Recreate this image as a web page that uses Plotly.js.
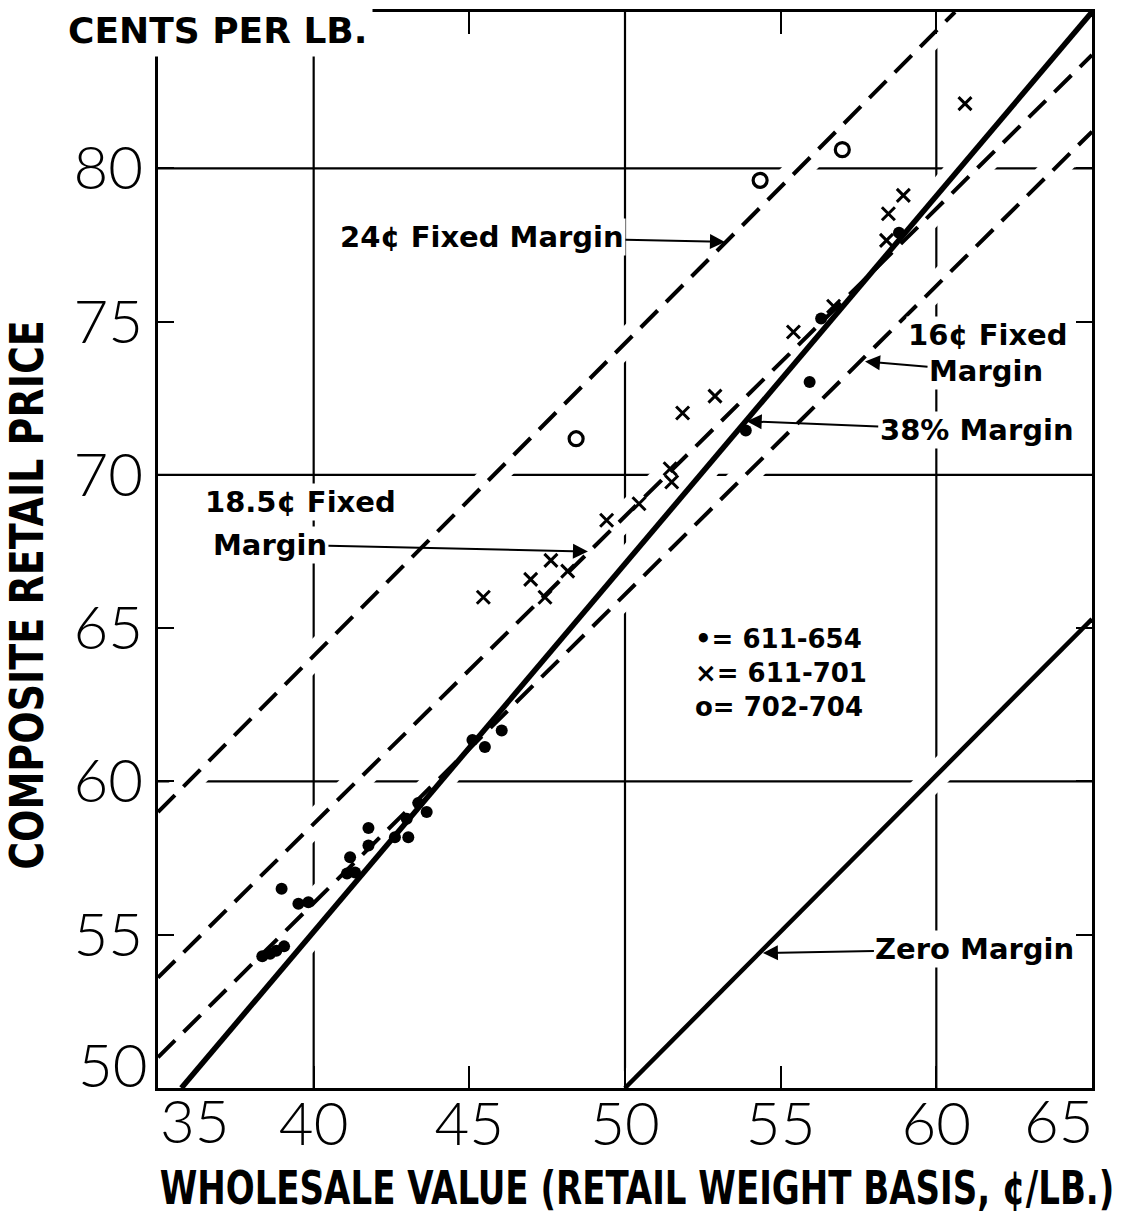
<!DOCTYPE html>
<html><head><meta charset="utf-8">
<script src="https://cdn.plot.ly/plotly-3.0.1.min.js"></script>
<style>html,body{margin:0;padding:0;background:#fff;}</style>
</head><body>
<div id="chart" style="width:1127px;height:1215px;"></div>
<script>
// ---------- data ----------
const xTickVals = [35, 40, 45, 50, 55, 60, 65];
const xTickText = ['', '40', '45', '50', '55', '60', ''];
const yTickVals = [50, 55, 60, 65, 70, 75, 80];
const yTickText = ['', '55', '60', '65', '70', '75', '80'];
const gridX = [40, 50, 60];
const gridY = [60, 70, 80];

// 611-654 (filled dots)
const dotX = [38.35, 38.6, 38.8, 39.05, 38.97, 39.51, 39.83, 41.07, 41.33, 41.17, 41.76, 41.76,
              42.61, 43.04, 42.99, 43.36, 43.63, 45.1, 45.5, 46.04, 53.88, 55.93, 56.3, 58.8];
const dotY = [54.3, 54.38, 54.48, 54.62, 56.5, 56.01, 56.06, 57.0, 57.03, 57.53, 57.91, 58.48,
              58.18, 58.18, 58.78, 59.3, 59.0, 61.35, 61.12, 61.66, 71.45, 73.03, 75.1, 77.9];
// 611-701 (crosses)
const crossX = [45.45, 46.97, 47.62, 47.43, 48.16, 49.41, 50.45, 51.45, 51.5, 51.85, 52.89,
                55.41, 56.7, 58.4, 58.46, 58.94, 60.92];
const crossY = [66.01, 66.59, 67.21, 66.01, 66.86, 68.52, 69.06, 70.2, 69.77, 72.02, 72.57,
                74.66, 75.5, 77.65, 78.52, 79.12, 82.11];
// 702-704 (open circles)
const circleX = [48.43, 54.34, 56.98];
const circleY = [71.18, 79.61, 80.61];

// reference lines (end points)
const line24X = [35, 60.6],   line24Y = [59.0, 85.1];
const line185X = [35, 65],    line185Y = [53.6, 83.7];
const line16X = [35, 65],     line16Y = [51.0, 81.2];
const line38X = [35.75, 65],  line38Y = [50, 85.1];
const line0X = [50, 65],      line0Y = [50, 65.3];

const legendLines = ['•= 611-654', '×= 611-701', 'o= 702-704'];

// ---------- layout helpers (pixel -> paper) ----------
const L = 158, R = 1092, T = 12, B = 1088;
const px = v => (v - L) / (R - L);
const py = v => (B - v) / (B - T);

const dashed = '24px,12px';
const lines = [
  {x: line24X, y: line24Y, dash: dashed, w: 4},
  {x: line185X, y: line185Y, dash: dashed, w: 4},
  {x: line16X, y: line16Y, dash: dashed, w: 4},
  {x: line38X, y: line38Y, dash: 'solid', w: 5.5},
  {x: line0X, y: line0Y, dash: 'solid', w: 4.5}
];

const traces = [];
// white halos: break grid lines where the reference lines cross
lines.forEach(l => traces.push({x: l.x, y: l.y, mode: 'lines', type: 'scatter',
  line: {color: '#ffffff', width: 26}, hoverinfo: 'skip', showlegend: false}));
lines.forEach(l => traces.push({x: l.x, y: l.y, mode: 'lines', type: 'scatter',
  line: {color: '#000000', width: l.w, dash: l.dash}, hoverinfo: 'skip', showlegend: false}));

traces.push({x: dotX, y: dotY, mode: 'markers', type: 'scatter', name: '611-654', showlegend: false,
  marker: {symbol: 'circle', size: 12, color: '#000'}});
traces.push({x: crossX, y: crossY, mode: 'markers', type: 'scatter', name: '611-701', showlegend: false,
  marker: {symbol: 'x-thin-open', size: 13, color: '#000', line: {color: '#000', width: 3}}});
traces.push({x: circleX, y: circleY, mode: 'markers', type: 'scatter', name: '702-704', showlegend: false,
  marker: {symbol: 'circle-open', size: 14, color: '#000', line: {color: '#000', width: 3.2}}});

const shapes = [];
gridX.forEach(v => shapes.push({type: 'line', xref: 'x', yref: 'paper', x0: v, x1: v, y0: 0, y1: 1,
  layer: 'below', line: {color: '#000', width: 2.2}}));
gridY.forEach(v => shapes.push({type: 'line', xref: 'paper', yref: 'y', x0: 0, x1: 1, y0: v, y1: v,
  layer: 'below', line: {color: '#000', width: 2.2}}));

const tickFont = {family: 'Lato, "Open Sans", sans-serif', size: 60, weight: 300, color: '#000'};
const annFont = {family: '"DejaVu Sans", sans-serif', size: 29, weight: 'bold', color: '#000'};
const titleFont = {family: '"Liberation Sans Narrow", "DejaVu Sans Condensed", sans-serif', size: 46, weight: 'bold', color: '#000'};

const arrow = {showarrow: true, arrowhead: 2, arrowsize: 1.5, arrowwidth: 2, arrowcolor: '#000',
  xref: 'x', yref: 'y', bgcolor: '#fff', font: annFont, borderpad: 1};
const plain = {xref: 'paper', yref: 'paper', showarrow: false, xanchor: 'center', yanchor: 'middle'};

const annotations = [
  Object.assign({}, plain, {text: 'CENTS PER LB.', x: px(62), y: py(31), xanchor: 'left',
   bgcolor: '#fff', borderpad: 5,
   font: {family: '"DejaVu Sans", sans-serif', size: 36, weight: 'bold', color: '#000'}}),
  Object.assign({}, arrow, {text: '24¢ Fixed Margin', x: 53.21, y: 77.6, ax: -243, ay: -5}),
  Object.assign({}, plain, {text: '16¢ Fixed', x: px(988), y: py(335), bgcolor: '#fff', font: annFont}),
  Object.assign({}, arrow, {text: 'Margin', x: 57.71, y: 73.7, ax: 121, ay: 10}),
  Object.assign({}, arrow, {text: '38% Margin', x: 53.91, y: 71.75, ax: 230, ay: 9}),
  Object.assign({}, plain, {text: '18.5¢ Fixed', x: px(300), y: py(502), bgcolor: '#fff', font: annFont}),
  Object.assign({}, arrow, {text: 'Margin', x: 48.81, y: 67.5, ax: -318, ay: -7}),
  Object.assign({}, arrow, {text: 'Zero Margin', x: 54.43, y: 54.4, ax: 212, ay: -4}),
  Object.assign({}, plain, {text: legendLines.join('<br>'), x: px(693), y: py(673), xanchor: 'left', align: 'left',
   font: {family: '"DejaVu Sans", sans-serif', size: 26, weight: 'bold', color: '#000'}}),
  // edge tick labels shifted inside the frame (as in the original)
  Object.assign({}, plain, {text: '35', x: px(158), y: py(1120), xanchor: 'left', font: tickFont}),
  Object.assign({}, plain, {text: '65', x: px(1096), y: py(1120), xanchor: 'right', font: tickFont}),
  Object.assign({}, plain, {text: '50', x: px(150), y: py(1064), xanchor: 'right', font: tickFont})
];

const layout = {
  width: 1127, height: 1215,
  margin: {l: L, r: 1127 - R, t: T, b: 1215 - B, pad: 0},
  paper_bgcolor: '#fff', plot_bgcolor: '#fff',
  showlegend: false,
  xaxis: {range: [35, 65], tickmode: 'array', tickvals: xTickVals, ticktext: xTickText,
    showgrid: false, zeroline: false, showline: true, linecolor: '#000', linewidth: 3, mirror: 'ticks',
    ticks: 'inside', ticklen: 22, tickwidth: 2, tickcolor: '#000', tickfont: tickFont, ticklabelstandoff: -18,
    title: {text: 'WHOLESALE VALUE (RETAIL WEIGHT BASIS, ¢/LB.)', font: titleFont, standoff: 22}},
  yaxis: {range: [50, 85.1], tickmode: 'array', tickvals: yTickVals, ticktext: yTickText,
    showgrid: false, zeroline: false, showline: true, linecolor: '#000', linewidth: 3, mirror: 'ticks',
    ticks: 'inside', ticklen: 16, tickwidth: 2, tickcolor: '#000', tickfont: tickFont, ticklabelstandoff: 0,
    title: {text: 'COMPOSITE RETAIL PRICE', font: titleFont, standoff: 20}},
  shapes: shapes,
  annotations: annotations
};

Plotly.newPlot('chart', traces, layout, {displayModeBar: false, staticPlot: true}).then(gd => {
  // condense the axis titles like the original lettering (horizontal squeeze of the glyphs)
  const xt = gd.querySelector('.xtitle');
  if (xt) {
    const w = xt.getBBox().width;
    const s = 955 / w, cx = 637, x0 = parseFloat(xt.getAttribute('x'));
    const tr = xt.getAttribute('transform') || '';
    xt.setAttribute('transform', `translate(${cx},0) scale(${s},1) translate(${-x0},0) ${tr}`);
  }
  const yt = gd.querySelector('.ytitle');
  if (yt) {
    const w = yt.getBBox().width;
    const s = 550 / w;
    const x0 = parseFloat(yt.getAttribute('x')), y0 = parseFloat(yt.getAttribute('y'));
    const cy = 595;
    const tr = yt.getAttribute('transform') || '';
    yt.setAttribute('transform', `translate(0,${cy}) scale(1,${s}) translate(0,${-y0}) ${tr}`);
  }
});
</script>
</body></html>
